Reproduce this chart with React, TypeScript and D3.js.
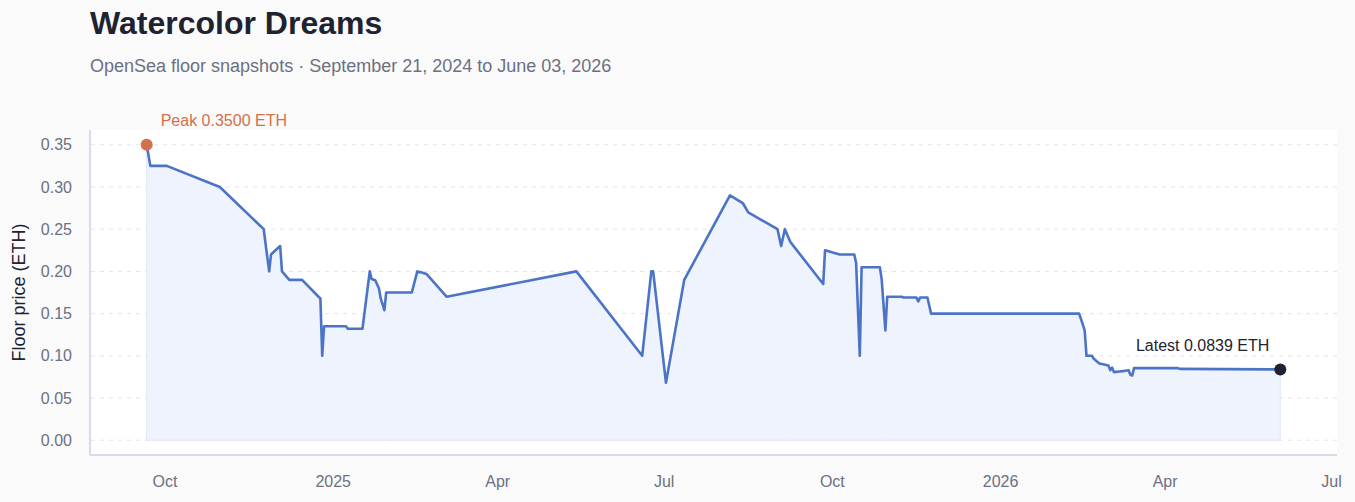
import React, { useEffect, useRef } from 'react';
import * as d3 from 'd3';

const title = 'Watercolor Dreams';
const subtitle = 'OpenSea floor snapshots · September 21, 2024 to June 03, 2026';
const yLabel = 'Floor price (ETH)';

const snapshotDates = [
  '2024-09-21', '2024-09-23', '2024-10-02', '2024-10-31', '2024-11-24', '2024-11-25', '2024-11-27', '2024-11-28',
  '2024-12-03', '2024-12-04', '2024-12-08', '2024-12-15', '2024-12-24', '2024-12-25', '2024-12-26', '2024-12-27',
  '2025-01-08', '2025-01-09', '2025-01-17', '2025-01-21', '2025-01-22', '2025-01-24', '2025-01-26', '2025-01-27',
  '2025-01-29', '2025-01-30', '2025-02-13', '2025-02-16', '2025-02-18', '2025-02-21', '2025-03-04', '2025-05-14',
  '2025-06-19', '2025-06-24', '2025-06-25', '2025-07-02', '2025-07-12', '2025-08-06', '2025-08-13', '2025-08-16',
  '2025-09-01', '2025-09-03', '2025-09-05', '2025-09-08', '2025-09-26', '2025-09-27', '2025-10-05', '2025-10-13',
  '2025-10-14', '2025-10-16', '2025-10-17', '2025-10-27', '2025-10-28', '2025-10-30', '2025-10-31', '2025-11-08',
  '2025-11-09', '2025-11-16', '2025-11-17', '2025-11-18', '2025-11-22', '2025-11-24', '2026-02-13', '2026-02-15',
  '2026-02-16', '2026-02-17', '2026-02-20', '2026-02-21', '2026-02-24', '2026-02-26', '2026-03-01', '2026-03-02',
  '2026-03-03', '2026-03-04', '2026-03-07', '2026-03-10', '2026-03-12', '2026-03-13', '2026-03-14', '2026-03-15',
  '2026-04-08', '2026-04-09', '2026-06-03',
];

const floorPrices = [
  0.35, 0.325, 0.325, 0.30, 0.25, 0.233, 0.20, 0.22,
  0.23, 0.20, 0.19, 0.19, 0.17, 0.168, 0.10, 0.135,
  0.135, 0.132, 0.132, 0.20, 0.191, 0.1895, 0.18, 0.168,
  0.154, 0.175, 0.175, 0.20, 0.199, 0.197, 0.17, 0.20,
  0.10, 0.20, 0.20, 0.068, 0.19, 0.29, 0.281, 0.27,
  0.25, 0.23, 0.25, 0.235, 0.185, 0.225, 0.22, 0.22,
  0.21, 0.10, 0.205, 0.205, 0.19, 0.13, 0.17, 0.17,
  0.169, 0.169, 0.1645, 0.169, 0.169, 0.15, 0.15, 0.137,
  0.13, 0.10, 0.10, 0.0965, 0.091, 0.090, 0.0886, 0.083,
  0.086, 0.0807, 0.0815, 0.0822, 0.083, 0.0775, 0.0767, 0.0854,
  0.0854, 0.0845, 0.0839,
];

const yTicks = [0, 0.05, 0.1, 0.15, 0.2, 0.25, 0.3, 0.35];

const FONT = '"Liberation Sans", Arial, Helvetica, sans-serif';

export default function App() {
  const svgRef = useRef<SVGSVGElement>(null);

  useEffect(() => {
    document.body.style.margin = '0';
    document.body.style.background = '#fafafa';
    if (!svgRef.current) return;

    const W = 1355;
    const H = 502;
    const margin = { top: 130, right: 18, bottom: 47, left: 90 };
    const x0 = margin.left;
    const x1 = W - margin.right;
    const y0 = margin.top;
    const y1 = H - margin.bottom;

    const parse = d3.utcParse('%Y-%m-%d');
    const data = snapshotDates.map((d, i) => ({ date: parse(d) as Date, value: floorPrices[i] }));

    const [dMin, dMax] = d3.extent(data, (d) => d.date) as [Date, Date];
    const pad = (dMax.getTime() - dMin.getTime()) * 0.05;
    const xScale = d3.scaleUtc()
      .domain([new Date(dMin.getTime() - pad), new Date(dMax.getTime() + pad)])
      .range([x0, x1]);

    const vMax = d3.max(data, (d) => d.value) ?? 0.35;
    const yScale = d3.scaleLinear()
      .domain([-vMax * 0.05, vMax * 1.05])
      .range([y1, y0]);

    const svg = d3.select(svgRef.current);
    svg.selectAll('*').remove();
    svg.attr('width', W).attr('height', H).style('font-family', FONT);

    svg.append('rect').attr('width', W).attr('height', H).attr('fill', '#fafafa');

    // Title
    svg.append('text')
      .attr('x', 90).attr('y', 34)
      .attr('font-size', 32).attr('font-weight', 700)
      .attr('fill', '#1f2230')
      .text(title);

    svg.append('text')
      .attr('x', 90).attr('y', 72)
      .attr('font-size', 18)
      .attr('fill', '#6b7082')
      .text(subtitle);

    // Plot panel
    svg.append('rect')
      .attr('x', x0).attr('y', y0)
      .attr('width', x1 - x0).attr('height', y1 - y0)
      .attr('fill', '#ffffff');

    // Grid lines
    svg.append('g')
      .selectAll('line')
      .data(yTicks)
      .enter()
      .append('line')
      .attr('x1', x0 + 1).attr('x2', x1)
      .attr('y1', (d) => yScale(d)).attr('y2', (d) => yScale(d))
      .attr('stroke', '#e3e5ea')
      .attr('stroke-width', 1)
      .attr('stroke-dasharray', '4 5');

    // Area + line
    const area = d3.area<{ date: Date; value: number }>()
      .x((d) => xScale(d.date))
      .y0(yScale(0))
      .y1((d) => yScale(d.value));

    svg.append('path')
      .datum(data)
      .attr('d', area)
      .attr('fill', '#eef3fd')
      .attr('stroke', '#dfe7f8')
      .attr('stroke-width', 1);

    const line = d3.line<{ date: Date; value: number }>()
      .x((d) => xScale(d.date))
      .y((d) => yScale(d.value));

    svg.append('path')
      .datum(data)
      .attr('d', line)
      .attr('fill', 'none')
      .attr('stroke', '#4b74c7')
      .attr('stroke-width', 2.6)
      .attr('stroke-linejoin', 'round');

    // Axes
    svg.append('line')
      .attr('x1', x0).attr('x2', x0).attr('y1', y0).attr('y2', y1)
      .attr('stroke', '#d7dae8').attr('stroke-width', 2);
    svg.append('line')
      .attr('x1', x0).attr('x2', x1).attr('y1', y1).attr('y2', y1)
      .attr('stroke', '#d7dae8').attr('stroke-width', 2);

    svg.append('g')
      .selectAll('text')
      .data(yTicks)
      .enter()
      .append('text')
      .attr('x', x0 - 18)
      .attr('y', (d) => yScale(d))
      .attr('dy', '0.35em')
      .attr('text-anchor', 'end')
      .attr('font-size', 16)
      .attr('fill', '#6b7082')
      .text((d) => d3.format('.2f')(d));

    const xTicks = xScale.ticks(d3.utcMonth.every(3) as d3.TimeInterval);
    const fmt = (d: Date) => (d.getUTCMonth() === 0 ? d3.utcFormat('%Y')(d) : d3.utcFormat('%b')(d));
    svg.append('g')
      .selectAll('text')
      .data(xTicks)
      .enter()
      .append('text')
      .attr('x', (d) => xScale(d))
      .attr('y', 487)
      .attr('text-anchor', 'middle')
      .attr('font-size', 16)
      .attr('fill', '#6b7082')
      .text(fmt);

    svg.append('text')
      .attr('transform', `translate(25,${(y0 + y1) / 2}) rotate(-90)`)
      .attr('text-anchor', 'middle')
      .attr('font-size', 18)
      .attr('fill', '#1f2230')
      .text(yLabel);

    // Peak and latest markers
    const peak = data.reduce((a, b) => (b.value > a.value ? b : a));
    const last = data[data.length - 1];

    svg.append('circle')
      .attr('cx', xScale(peak.date)).attr('cy', yScale(peak.value))
      .attr('r', 6).attr('fill', '#d1704a');
    svg.append('text')
      .attr('x', xScale(peak.date) + 14).attr('y', yScale(peak.value) - 19)
      .attr('font-size', 16).attr('fill', '#d1704a')
      .text(`Peak ${peak.value.toFixed(4)} ETH`);

    svg.append('circle')
      .attr('cx', xScale(last.date)).attr('cy', yScale(last.value))
      .attr('r', 6).attr('fill', '#1f2230');
    svg.append('text')
      .attr('x', xScale(last.date) - 11).attr('y', yScale(last.value) - 18)
      .attr('text-anchor', 'end')
      .attr('font-size', 16).attr('fill', '#1f2230')
      .text(`Latest ${last.value.toFixed(4)} ETH`);
  }, []);

  return <svg ref={svgRef} style={{ display: 'block' }} />;
}
